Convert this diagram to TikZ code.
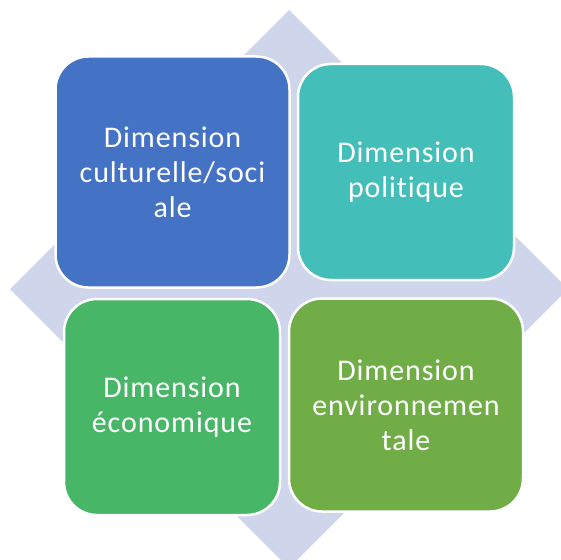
\documentclass[tikz,border=0pt]{standalone}
\usepackage{fontspec}
\setmainfont[RawFeature=-liga, LetterSpace=3]{Carlito}
\definecolor{diamondc}{HTML}{CFD5EA}
\definecolor{c1}{HTML}{4472C4}
\definecolor{c2}{HTML}{43BEB8}
\definecolor{c3}{HTML}{48B667}
\definecolor{c4}{HTML}{70AD47}
\tikzset{
  dimbox/.style={draw=white, line width=2.5pt, rounded corners=33pt, align=center,
    text=white, inner sep=0pt, font=\fontsize{30}{35}\selectfont}
}
\begin{document}
\begin{tikzpicture}[x=1pt,y=-1pt]
\useasboundingbox (0,0) rectangle (561,559);
\begin{scope}
\clip (0,0) rectangle (561,559);
\fill[diamondc] (289,10) -- (568,289) -- (289,568) -- (10,289) -- cycle;
\end{scope}
\node[dimbox, fill=c1, minimum width=234pt, minimum height=231pt] (b1) at (172.5,172)
  {Dimension\\culturelle/soci\\ale};
\node[dimbox, fill=c2, minimum width=216pt, minimum height=216pt] (b2) at (406,172)
  {Dimension\\politique};
\node[dimbox, fill=c3, minimum width=216pt, minimum height=216pt] (b3) at (172,407)
  {Dimension\\économique};
\node[dimbox, fill=c4, minimum width=234pt, minimum height=213pt] (b4) at (406,405)
  {Dimension\\environnemen\\tale};
\end{tikzpicture}
\end{document}
